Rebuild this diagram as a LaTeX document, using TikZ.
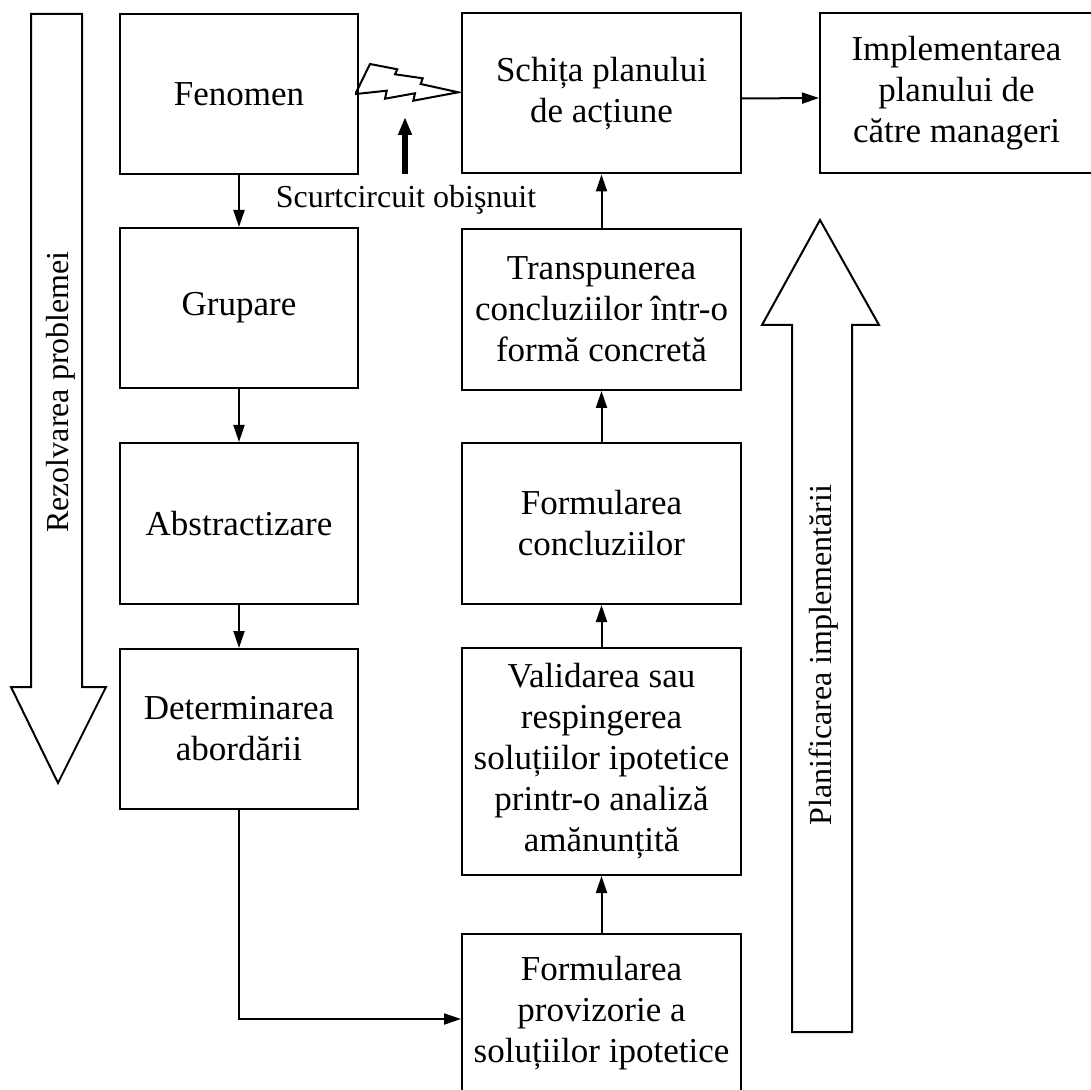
\documentclass[tikz,border=0pt]{standalone}
\usepackage{fontspec}
\setmainfont{Liberation Serif}
\usetikzlibrary{arrows.meta}
\begin{document}
\begin{tikzpicture}[x=0.5pt,y=-0.5pt,
  box/.style={draw, line width=1pt, align=center, inner sep=0pt,
    font=\fontsize{17.5}{20.5}\selectfont},
  leftbox/.style={box, minimum width=119pt, minimum height=80pt},
  midbox/.style={box, minimum width=139.5pt, minimum height=80pt},
  conn/.style={draw, line width=1pt, -{Triangle[length=8.5pt,width=5.5pt]}},
  bigarrow/.style={draw, line width=1pt, line join=miter},
  sidelabel/.style={font=\fontsize{16}{19}\selectfont, rotate=90},
]
\useasboundingbox (0,0) rectangle (1091,1090);
\clip (0,0) rectangle (1091,1090);

% problem-solving direction (down)
\draw[bigarrow] (31,14) -- (82,14) -- (82,687) -- (106,687) -- (58,783)
  -- (11,687) -- (31,687) -- cycle;
\node[sidelabel] (rez) at (61,392) {Rezolvarea problemei};

% implementation planning direction (up)
\draw[bigarrow] (792,1032) -- (852,1032) -- (852,325) -- (879,325) -- (820,220)
  -- (762,325) -- (792,325) -- cycle;
\node[sidelabel] (plan) at (824,655) {Planificarea implementării};

% left column
\node[leftbox] (fen) at (239,94) {Fenomen};
\node[leftbox] (grp) at (239,308) {Grupare};
\node[leftbox, minimum height=80.5pt] (abs) at (239,523.5) {Abstractizare};
\node[leftbox] (det) at (239,729) {Determinarea\\abordării};

% middle column
\node[midbox] (sch) at (601.5,93.5) {Schița planului\\de acțiune};
\node[midbox, minimum height=80.5pt] (trn) at (601.5,309.5) {Transpunerea\\concluziilor într-o\\formă concretă};
\node[midbox, minimum height=80.5pt] (frc) at (601.5,523.5) {Formularea\\concluziilor};
\node[midbox, minimum height=113.5pt] (val) at (601.5,761.5) {Validarea sau\\respingerea\\soluțiilor ipotetice\\printr-o analiză\\amănunțită};
\node[midbox, minimum height=79pt] (prv) at (601.5,1013) {Formularea\\provizorie a\\soluțiilor ipotetice};

% right column
\node[box, minimum width=136.5pt, minimum height=80pt] (imp) at (956.5,93) {Implementarea\\planului de\\către manageri};

% connectors
\draw[conn] (fen) -- (grp);
\draw[conn] (grp) -- (abs);
\draw[conn] (abs) -- (det);
\draw[conn] (det.south) |- ([yshift=-3pt]prv.west);
\draw[conn] (prv) -- (val);
\draw[conn] (val) -- (frc);
\draw[conn] (frc) -- (trn);
\draw[conn] (trn) -- (sch);
\draw[conn] ([yshift=-2.5pt]sch.east) -- ([yshift=-2.5pt]imp.west);

% the usual short circuit
\draw[line width=1pt, line join=miter] (356,92.7) -- (370,64) -- (397.3,69.3)
  -- (395,74.3) -- (422.7,78.3) -- (420.7,84) -- (458.3,92.3)
  -- (413.3,100.7) -- (415,93.3) -- (385,98.7) -- (386.7,90.7)
  -- (356,94) -- cycle;
\coordinate (scA) at (405,174);
\coordinate (scB) at (405,117);
\draw[line width=2.8pt, -{Triangle[length=9pt,width=6.5pt]}] (scA) -- (scB);
\node[font=\fontsize{16}{19}\selectfont] (sc) at (406,200) {Scurtcircuit obişnuit};
\end{tikzpicture}
\end{document}
